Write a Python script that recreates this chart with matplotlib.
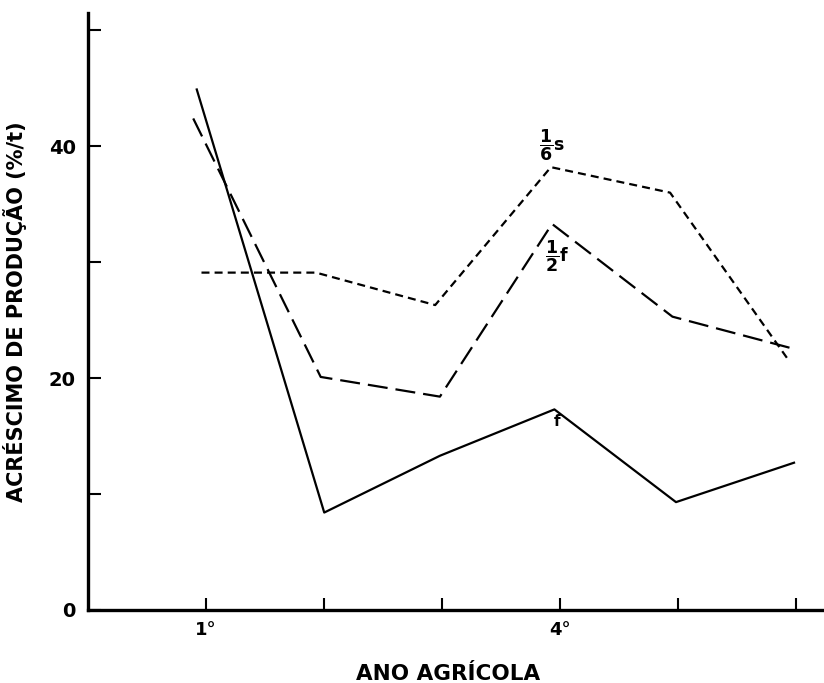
import matplotlib; matplotlib.use("Agg")
import matplotlib.pyplot as plt

# anos agricolas (posição no eixo x) e acréscimo de produção (%/t)
x_f = [0.92, 2.0, 2.98, 3.95, 4.98, 5.98]
y_f = [44.9, 8.4, 13.3, 17.3, 9.3, 12.7]
x_half_f = [0.89, 1.97, 2.98, 3.93, 4.95, 5.95]
y_half_f = [42.4, 20.1, 18.4, 33.3, 25.3, 22.6]
x_sixth_s = [0.96, 1.93, 2.94, 3.92, 4.93, 5.93]
y_sixth_s = [29.1, 29.1, 26.3, 38.2, 36.0, 21.6]

xticks = [1, 2, 3, 4, 5, 6]
xticklabels = ["1°", "", "", "4°", "", ""]
yticks = [0, 10, 20, 30, 40, 50]
yticklabels = ["0", "", "20", "", "40", ""]

plt.rcParams["font.family"] = ["DejaVu Sans"]
plt.rcParams["font.weight"] = "bold"
plt.rcParams["mathtext.fontset"] = "custom"
plt.rcParams["mathtext.rm"] = "DejaVu Sans:bold"
plt.rcParams["mathtext.it"] = "DejaVu Sans:bold"
plt.rcParams["mathtext.bf"] = "DejaVu Sans:bold"

fig = plt.figure(figsize=(8.24, 6.83), dpi=100)
ax = fig.add_axes([0.107, 0.107, 0.891, 0.874])

ax.plot(x_f, y_f, "-", color="black", lw=1.6)
ax.plot(x_half_f, y_half_f, color="black", lw=1.6, dashes=(9.0, 3.6))
ax.plot(x_sixth_s, y_sixth_s, color="black", lw=1.6, dashes=(3.6, 2.3))

ax.text(3.93, 38.6, r"$\dfrac{1}{6}\mathrm{s}$", fontsize=12.5, ha="center", va="bottom")
ax.text(3.97, 29.0, r"$\dfrac{1}{2}\mathrm{f}$", fontsize=12.5, ha="center", va="bottom")
ax.text(3.97, 16.9, "f", fontsize=11, ha="center", va="top")

ax.set_xlim(0, 6.22)
ax.set_ylim(0, 51.5)
ax.set_xticks(xticks)
ax.set_xticklabels(xticklabels, fontsize=13)
ax.set_yticks(yticks)
ax.set_yticklabels(yticklabels, fontsize=14)
ax.tick_params(direction="in", length=9, width=1.5, pad=8)
ax.tick_params(axis="y", pad=9)

for s in ["top", "right"]:
    ax.spines[s].set_visible(False)
for s in ["left", "bottom"]:
    ax.spines[s].set_linewidth(2.4)

ax.set_xlabel("ANO AGRÍCOLA", fontsize=15.5, fontweight="bold")
ax.xaxis.set_label_coords(0.49, -0.09)
ax.set_ylabel("ACRÉSCIMO DE PRODUÇÃO (%/t)", fontsize=15, fontweight="bold")
ax.yaxis.set_label_coords(-0.083, 0.5)

plt.savefig("out.png", dpi=100)
print("saved")
